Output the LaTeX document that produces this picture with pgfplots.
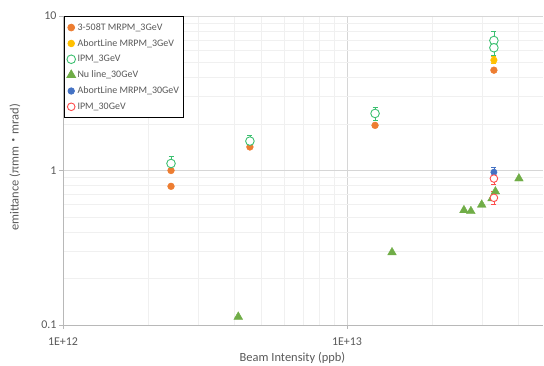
\documentclass[border=0pt]{standalone}
\usepackage{fontspec}
\setmainfont{Carlito}
\newfontfamily\cjk{Noto Sans CJK JP}
\usepackage{pgfplots}
\pgfplotsset{compat=1.18}
\definecolor{c1}{HTML}{ED7D31}
\definecolor{c2}{HTML}{FFC000}
\definecolor{c3}{HTML}{3CC070}
\definecolor{c4}{HTML}{70AD47}
\definecolor{c5}{HTML}{4472C4}
\definecolor{c6}{HTML}{FF4B4B}
\definecolor{txt}{HTML}{595959}
\begin{document}
\begin{tikzpicture}
\useasboundingbox (-63bp,-41bp) rectangle (481bp,325bp);
\begin{axis}[
  at={(0,0)}, anchor=south west,
  scale only axis, width=480bp, height=309bp,
  xmode=log, ymode=log,
  xmin=1e12, xmax=4.9e13, ymin=0.1, ymax=10,
  axis x line*=bottom, axis y line*=left,
  axis line style={draw=black!28, -, line width=0.8pt},
  xtick={1e12,1e13}, xticklabels={1E+12,1E+13},
  ytick={0.1,1,10}, yticklabels={0.1,1,10},
  minor xtick={2e12,3e12,4e12,5e12,6e12,7e12,8e12,9e12,2e13,3e13,4e13},
  minor ytick={0.2,0.3,0.4,0.5,0.6,0.7,0.8,0.9,2,3,4,5,6,7,8,9},
  major tick length=4bp, minor tick length=0pt,
  tick align=outside,
  tick style={draw=black!28, line width=0.8pt},
  grid=both,
  major grid style={draw=black!16, line width=0.8pt},
  minor grid style={draw=black!6, line width=0.8pt},
  ticklabel style={font=\fontsize{12}{14}\selectfont, text=txt},
  xticklabel style={yshift=-5bp},
  yticklabel style={xshift=1bp},
  xlabel={Beam Intensity (ppb)},
  ylabel={emittance (πmm{\cjk ・}mrad)},
  label style={font=\fontsize{12.5}{14}\selectfont, text=txt},
  xlabel style={at={(axis description cs:0.478,-0.107)}, anchor=center},
  ylabel style={at={(axis description cs:-0.1,0.51)}, anchor=center},
  legend style={at={(axis description cs:0.002,1)}, anchor=north west,
    draw=black, line width=0.8pt, font=\fontsize{10}{11}\selectfont, text=txt,
    inner xsep=2.5bp, inner ysep=5bp, row sep=3.6bp,
    /tikz/every even column/.append style={column sep=0bp}},
  legend cell align=left,
  legend image code/.code={\draw[mark repeat=2,mark phase=2,#1] plot coordinates {(0bp,0bp) (3bp,0bp) (6bp,0bp)};},
  error bars/error bar style={line width=0.8pt},
  error bars/error mark options={rotate=90, mark size=2.5bp, line width=0.8pt},
]
\addplot[only marks, mark=*, mark size=3.4bp, color=c1, mark options={fill=c1, draw=c1}]
  coordinates {(2.40e12,0.79) (2.40e12,1.0) (4.55e12,1.42) (1.255e13,1.96) (3.29e13,4.46)};
\addlegendentry{3-508T MRPM\_3GeV}
\addplot[only marks, mark=*, mark size=3.3bp, color=c2, mark options={fill=c2, draw=c2},
  error bars/.cd, y dir=both, y explicit]
  coordinates {(3.29e13,5.18) +- (0,0.28)};
\addlegendentry{AbortLine MRPM\_3GeV}
\addplot[only marks, mark=*, mark size=4.3bp, color=c3, mark options={fill=white, draw=c3, line width=0.9pt},
  error bars/.cd, y dir=both, y explicit]
  coordinates {(2.40e12,1.11) +- (0,0.12) (4.55e12,1.55) +- (0,0.13) (1.255e13,2.34) +- (0,0.23) (3.29e13,6.94) +- (0,0.98) (3.29e13,6.23) +- (0,0.66)};
\addlegendentry{IPM\_3GeV}
\addplot[only marks, mark=triangle*, mark size=5bp, color=c4, mark options={fill=c4, draw=c4}]
  coordinates {(4.14e12,0.113) (1.44e13,0.295) (2.58e13,0.553) (2.73e13,0.545) (2.98e13,0.60) (3.24e13,0.659) (3.33e13,0.731) (4.03e13,0.887)};
\addlegendentry{Nu line\_30GeV}
\addplot[only marks, mark=*, mark size=3.2bp, color=c5, mark options={fill=c5, draw=c5},
  error bars/.cd, y dir=both, y explicit]
  coordinates {(3.29e13,0.975) +- (0,0.07)};
\addlegendentry{AbortLine MRPM\_30GeV}
\addplot[only marks, mark=*, mark size=3.8bp, color=c6, mark options={fill=white, draw=c6, line width=0.9pt},
  error bars/.cd, y dir=both, y explicit]
  coordinates {(3.29e13,0.887) +- (0,0.07) (3.29e13,0.666) +- (0,0.065)};
\addlegendentry{IPM\_30GeV}
\end{axis}
\end{tikzpicture}
\end{document}
